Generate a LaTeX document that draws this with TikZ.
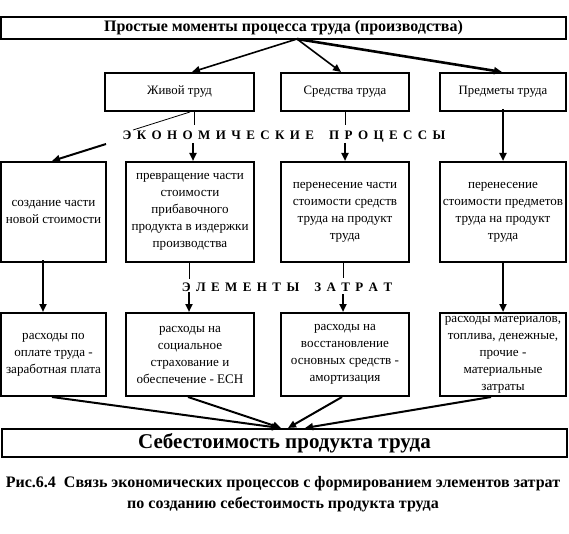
\documentclass[tikz,border=0pt]{standalone}
\usepackage{fontspec}
\setmainfont{Liberation Serif}
\usetikzlibrary{arrows.meta,calc}
\newcommand{\lsp}{\hspace{5.4pt}}
\begin{document}
\begin{tikzpicture}[x=1pt,y=-1pt,
  box/.style={draw,line width=2pt,rectangle,inner sep=0pt,align=center,
    font=\fontsize{13.1}{17}\selectfont},
  arr/.style={line width=2pt,-{Triangle[length=8pt,width=7pt]}},
  thinln/.style={line width=0.8pt},
  title/.style={font=\bfseries\fontsize{16}{18}\selectfont},
  spaced/.style={font=\bfseries\fontsize{13}{14}\selectfont,inner sep=0pt}]
\useasboundingbox (0,0) rectangle (569,534);
% top
\node[box,title,minimum width=565pt,minimum height=22pt] (T) at (283.5,28) {Простые моменты процесса труда (производства)};
% row 2
\node[box,font=\fontsize{12.8}{15}\selectfont,minimum width=149pt,minimum height=38pt] (A) at (179.5,92) {Живой труд};
\node[box,font=\fontsize{12.8}{15}\selectfont,minimum width=128pt,minimum height=38pt] (B) at (345,92) {Средства труда};
\node[box,font=\fontsize{12.8}{15}\selectfont,minimum width=126pt,minimum height=38pt] (C) at (503,92) {Предметы труда};
% row 3
\node[box,minimum width=105pt,minimum height=100pt] (P1) at (53.5,212) {создание части\\новой стоимости};
\node[box,minimum width=128pt,minimum height=100pt] (P2) at (190,212) {превращение части\\стоимости\\прибавочного\\продукта в издержки\\производства};
\node[box,minimum width=128pt,minimum height=100pt] (P3) at (345,212) {перенесение части\\стоимости средств\\труда на продукт\\труда};
\node[box,minimum width=126pt,minimum height=100pt] (P4) at (503,212) {перенесение\\стоимости предметов\\труда на продукт\\труда};
% row 4
\node[box,minimum width=105pt,minimum height=83pt] (R1) at (53.5,354.5) {расходы по\\оплате труда -\\заработная плата};
\node[box,minimum width=128pt,minimum height=83pt] (R2) at (190,354.5) {расходы на\\социальное\\страхование и\\обеспечение - ЕСН};
\node[box,minimum width=128pt,minimum height=83pt] (R3) at (345,354.5) {расходы на\\восстановление\\основных средств -\\амортизация};
\node[box,minimum width=126pt,minimum height=83pt] (R4) at (503,354.5) {расходы материалов,\\топлива, денежные,\\прочие -\\материальные\\затраты};
% bottom
\node[box,font=\bfseries\fontsize{21}{24}\selectfont,minimum width=565pt,minimum height=28pt] (S) at (284.5,443) {Себестоимость продукта труда};
% labels
\node[spaced] (EP) at (284,137) {Э\lsp К\lsp О\lsp Н\lsp О\lsp М\lsp И\lsp Ч\lsp Е\lsp С\lsp К\lsp И\lsp Е\hspace{15pt}П\lsp Р\lsp О\lsp Ц\lsp Е\lsp С\lsp С\lsp Ы};
\node[spaced] (EZ) at (287,287) {Э\lsp Л\lsp Е\lsp М\lsp Е\lsp Н\lsp Т\lsp Ы\hspace{15pt}З\lsp А\lsp Т\lsp Р\lsp А\lsp Т};
\node[font=\bfseries\fontsize{16}{21}\selectfont,align=center] (cap) at (283,494.5) {Рис.6.4\ \ Связь экономических процессов с формированием элементов затрат\\по созданию себестоимость продукта труда};
% top arrows
\coordinate (t0) at (297,39);
\draw[arr,line width=1.6pt] (t0) -- ([xshift=12.5pt]A.north);
\draw[arr,line width=1.6pt] (t0) -- ([xshift=-4pt]B.north);
\draw[arr,line width=2.6pt] (t0) -- ([xshift=-1pt]C.north);
% economic processes connectors
\coordinate (e1) at (133,130);
\coordinate (e2) at (194,125);
\coordinate (e3) at (106,144);
\coordinate (e4) at (193,143);
\coordinate (e5) at (345,125);
\coordinate (e6) at (345,143);
\draw[thinln] ([xshift=10.5pt]A.south) -- (e1);
\draw[thinln] ([xshift=14.5pt]A.south) -- (e2);
\draw[arr] (e3) -- ([xshift=-1.5pt]P1.north);
\draw[arr] (e4) -- ([xshift=3pt]P2.north);
\draw[thinln] (B.south) -- (e5);
\draw[arr] (e6) -- (P3.north);
\draw[arr] ([yshift=3pt]C.south) -- (P4.north);
% cost elements connectors
\coordinate (z1) at (189,279);
\coordinate (z2) at (189,292);
\coordinate (z3) at (343,278);
\coordinate (z4) at (343,294);
\draw[arr] ([xshift=-10.5pt,yshift=3pt]P1.south) -- ([xshift=-10.5pt]R1.north);
\draw[thinln] ([xshift=-1pt]P2.south) -- (z1);
\draw[arr] (z2) -- ([xshift=-1pt]R2.north);
\draw[thinln] ([xshift=-2pt]P3.south) -- (z3);
\draw[arr] (z4) -- ([xshift=-2pt]R3.north);
\draw[arr] (P4.south) -- (R4.north);
% to cost
\draw[arr] ([xshift=-1.5pt]R1.south) -- ([xshift=-4.5pt]S.north);
\draw[arr] ([xshift=-2pt]R2.south) -- ([xshift=-3.5pt]S.north);
\draw[arr] ([xshift=-3pt]R3.south) -- ([xshift=3.5pt]S.north);
\draw[arr] ([xshift=-12pt]R4.south) -- ([xshift=20.5pt]S.north);
\end{tikzpicture}
\end{document}
